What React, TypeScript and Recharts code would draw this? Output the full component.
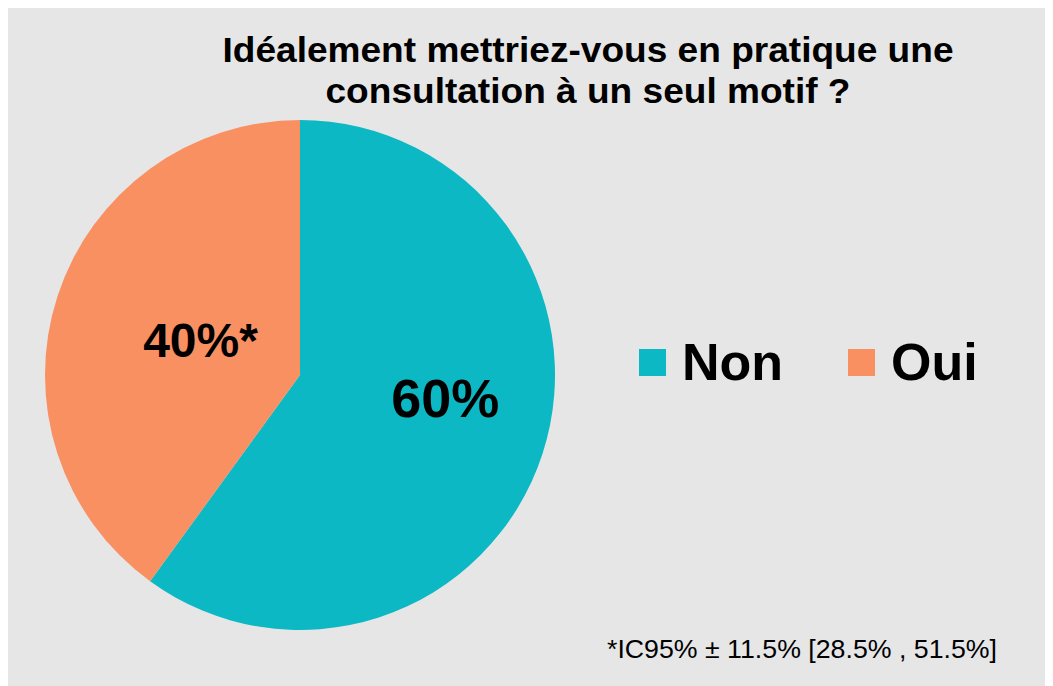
import { Cell, Customized, Legend, Pie, PieChart } from "recharts";

const categories = ["Non", "Oui"];
const shares = [60, 40];
const sliceLabels = ["60%", "40%*"];
const colors = ["#0BB8C4", "#F89062"];

const titleLines = ["Idéalement mettriez-vous en pratique une", "consultation à un seul motif ?"];
const footnote = "*IC95% ± 11.5% [28.5% , 51.5%]";

const data = categories.map((name, i) => ({ name, value: shares[i] }));

// label placement relative to pie radius (labels are not on the mid angle in the original)
const labelOffsets = [
  { dx: 0.57, dy: 0.165, size: 54 },
  { dx: -0.39, dy: -0.07, size: 48 },
];

const W = 1045;
const H = 678;

function SliceLabel(props: any) {
  const { cx, cy, outerRadius, index } = props;
  const o = labelOffsets[index];
  return (
    <text
      x={cx + o.dx * outerRadius}
      y={cy + o.dy * outerRadius}
      textAnchor="middle"
      fontFamily="'Liberation Sans', Arial, sans-serif"
      fontWeight="bold"
      fontSize={o.size}
      fill="#000"
    >
      {sliceLabels[index]}
    </text>
  );
}

function Title() {
  return (
    <g fontFamily="'Liberation Sans', Arial, sans-serif" fontWeight="bold" fill="#000">
      <text x={580} y={54} fontSize={35} textAnchor="middle" textLength={731} lengthAdjust="spacingAndGlyphs">
        {titleLines[0]}
      </text>
      <text x={580} y={95} fontSize={35} textAnchor="middle" textLength={525} lengthAdjust="spacingAndGlyphs">
        {titleLines[1]}
      </text>
      <text
        x={989}
        y={650}
        fontSize={26}
        fontWeight="normal"
        textAnchor="end"
        textLength={390}
        lengthAdjust="spacingAndGlyphs"
      >
        {footnote}
      </text>
    </g>
  );
}

function LegendContent(props: any) {
  const items = props.payload ?? [];
  const xs = [0, 209];
  return (
    <svg width={360} height={60}>
      {items.map((it: any, i: number) => (
        <g key={it.value}>
          <rect x={xs[i]} y={19} width={27} height={27} fill={it.color} />
          <text
            x={xs[i] + 43}
            y={50}
            fontFamily="'Liberation Sans', Arial, sans-serif"
            fontWeight="bold"
            fontSize={52}
            fill="#000"
          >
            {it.value}
          </text>
        </g>
      ))}
    </svg>
  );
}

export default function App() {
  return (
    <div style={{ width: W, height: H, background: "#E6E6E6" }}>
      <PieChart width={W} height={H} margin={{ top: 0, right: 0, bottom: 0, left: 0 }}>
        <Pie
          data={data}
          dataKey="value"
          nameKey="name"
          cx={292}
          cy={367}
          outerRadius={255}
          startAngle={90}
          endAngle={-270}
          stroke="none"
          label={SliceLabel}
          labelLine={false}
          isAnimationActive={false}
        >
          {data.map((d, i) => (
            <Cell key={d.name} fill={colors[i]} />
          ))}
        </Pie>
        <Legend
          content={LegendContent}
          wrapperStyle={{ position: "absolute", left: 631, top: 322, width: 360, height: 60 }}
        />
        <Customized component={Title} />
      </PieChart>
    </div>
  );
}
